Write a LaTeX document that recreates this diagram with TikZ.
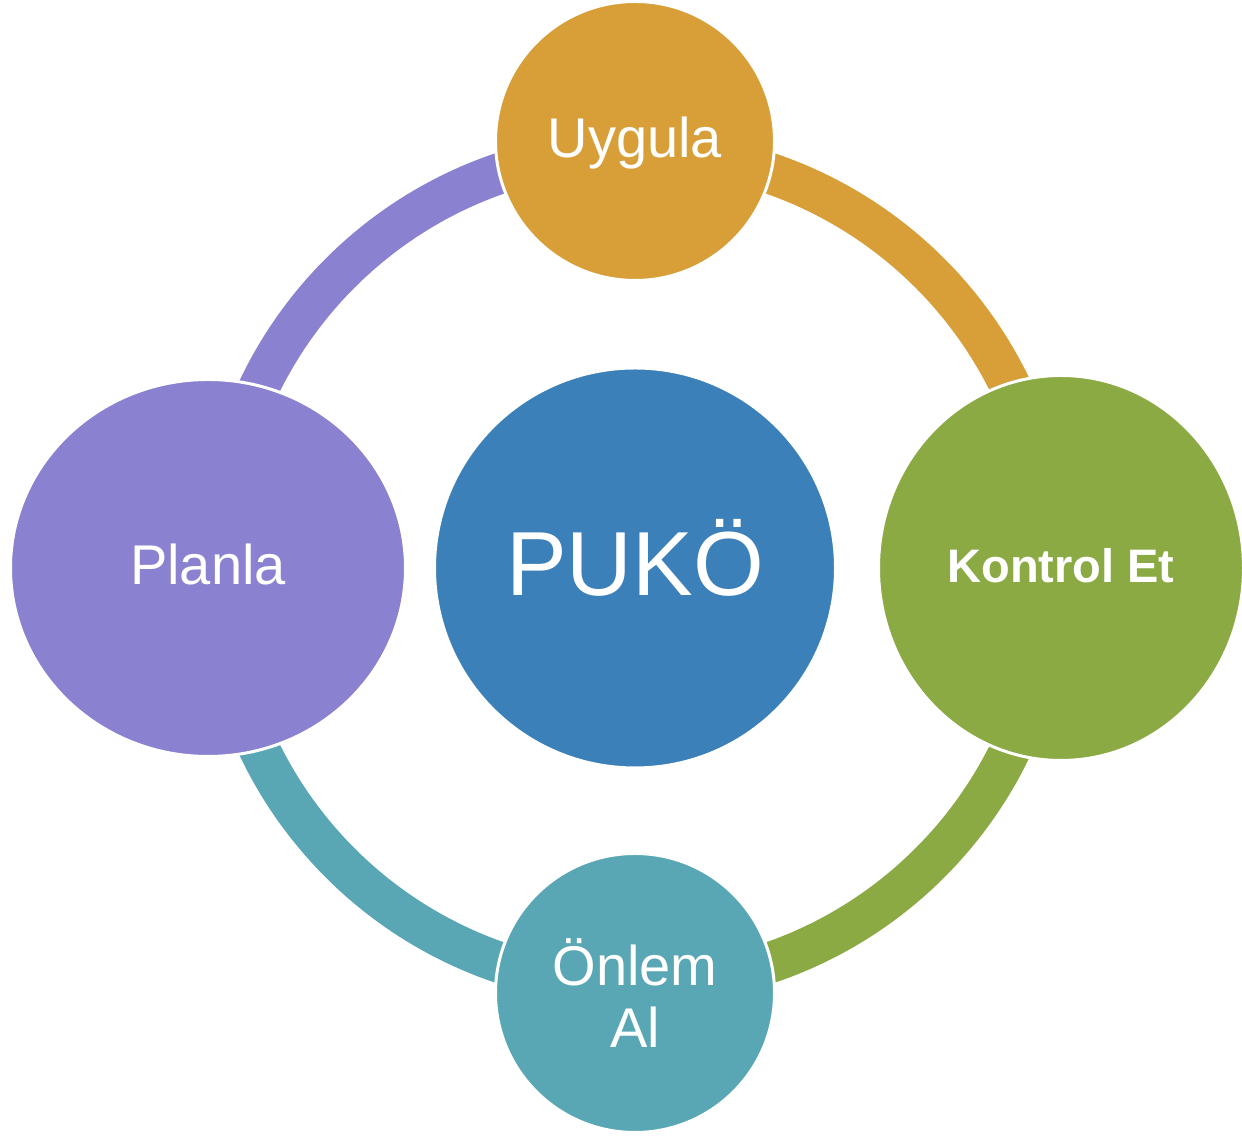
\documentclass[tikz,border=0pt]{standalone}
\usepackage{fontspec}
\setmainfont{Liberation Sans}
\usetikzlibrary{shapes.geometric}
\definecolor{pukoblue}{RGB}{59,128,184}
\definecolor{uygulaorange}{RGB}{216,159,57}
\definecolor{kontrolgreen}{RGB}{139,170,67}
\definecolor{onlemteal}{RGB}{89,167,180}
\definecolor{planlapurple}{RGB}{138,130,208}
\begin{document}
\begin{tikzpicture}[x=0.5pt,y=0.5pt,
  every node/.style={ellipse, inner sep=0pt, draw=white, line width=1.5pt, text=white},
  bigtext/.style={font=\fontsize{45.5}{52}\selectfont, text height=36.4pt, text depth=9.1pt},
  midtext/.style={font=\fontsize{28}{32}\selectfont, text height=22.4pt, text depth=5.6pt},
  boldtext/.style={font=\bfseries\fontsize{23.5}{28}\selectfont, text height=18.8pt, text depth=4.7pt},
  band/.style={line width=20.5pt}]
\useasboundingbox (0,0) rectangle (1242,1138);
\clip (0,0) rectangle (1242,1138);

% Centre circle
\node[bigtext, fill=pukoblue, minimum width=200.5pt, minimum height=200pt] (puko) at (635,570) {PUKÖ};

% Ring arcs, under the outer circles
\draw[band, planlapurple] (puko.center) ++(180:208.5pt) arc[start angle=180, end angle=90, radius=208.5pt];
\draw[band, uygulaorange] (puko.center) ++(90:208.5pt) arc[start angle=90, end angle=0, radius=208.5pt];
\draw[band, kontrolgreen] (puko.center) ++(0:208.5pt) arc[start angle=0, end angle=-90, radius=208.5pt];
\draw[band, onlemteal] (puko.center) ++(-90:208.5pt) arc[start angle=-90, end angle=-180, radius=208.5pt];

% Outer circles clockwise from the top
\node[midtext, fill=uygulaorange, minimum width=139.5pt, minimum height=139.5pt] (uygula) at (635,997) {Uygula};
\node[boldtext, fill=kontrolgreen, minimum width=182.5pt, minimum height=192.5pt] (kontrol) at (1061,570) {Kontrol Et};
\node[fill=onlemteal, minimum width=139.5pt, minimum height=139.5pt, align=center, font=\fontsize{28}{31}\selectfont] (onlem) at (635,145) {Önlem\\Al};
\node[midtext, fill=planlapurple, minimum width=197.5pt, minimum height=188.5pt] (planla) at (208,570) {Planla};
\end{tikzpicture}
\end{document}
